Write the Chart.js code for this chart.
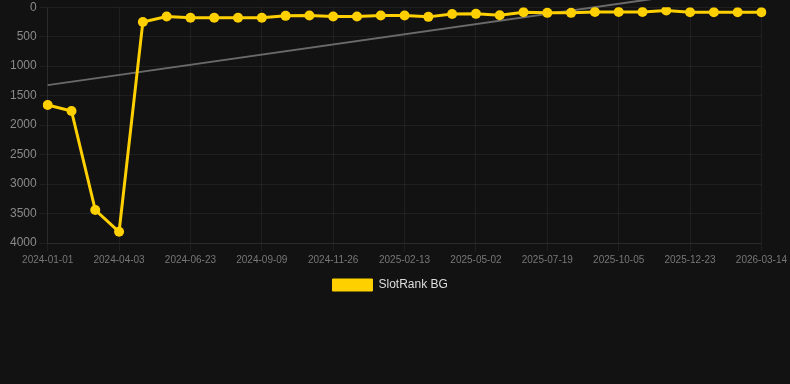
<!DOCTYPE html>
<html>
<head>
<meta charset="utf-8">
<script src="https://cdn.jsdelivr.net/npm/chart.js@4.4.1/dist/chart.umd.min.js"></script>
<style>
  html, body { margin: 0; padding: 0; background: #121212; overflow: hidden; }
  #wrap { width: 790px; height: 304px; position: relative; margin-top: -3px; }
</style>
</head>
<body>
<div id="wrap"><canvas id="c"></canvas></div>
<script>
const categories = [
  "2024-01-01","2024-02-01","2024-03-03","2024-04-03","2024-04-30","2024-05-27",
  "2024-06-23","2024-07-19","2024-08-14","2024-09-09","2024-10-05","2024-10-31",
  "2024-11-26","2024-12-22","2025-01-18","2025-02-13","2025-03-11","2025-04-06",
  "2025-05-02","2025-05-28","2025-06-23","2025-07-19","2025-08-14","2025-09-09",
  "2025-10-05","2025-10-31","2025-11-27","2025-12-23","2026-01-19","2026-02-15",
  "2026-03-14"
];
const rankValues = [
  1660, 1760, 3440, 3810, 250, 158,
  180, 180, 180, 180, 147, 142,
  158, 158, 142, 142, 164, 116,
  113, 136, 85, 96, 96, 80,
  80, 80, 57, 85, 85, 85,
  85
];
const trendValues = [1322, null, null, null, null, null, null, null, null, null, null, null, null, null, null, null, null, null, null, null, null, null, null, null, null, null, null, null, null, null, -403];
const yTicksMax = 4000;
const yTickStep = 500;

const gridColor = 'rgba(255,255,255,0.055)';
const fontFam = 'Liberation Sans, Arial, sans-serif';
new Chart(document.getElementById('c'), {
  type: 'line',
  data: {
    labels: categories,
    datasets: [
      {
        label: 'SlotRank BG',
        data: rankValues,
        borderColor: '#FFD000',
        backgroundColor: '#FFD000',
        borderWidth: 3,
        pointRadius: 5,
        pointBorderWidth: 0,
        pointHoverRadius: 5,
        pointBackgroundColor: '#FFD000',
        pointBorderColor: '#FFD000',
        tension: 0,
        order: 1
      },
      {
        label: 'trend',
        data: trendValues,
        spanGaps: true,
        borderColor: '#6a6a6a',
        borderWidth: 2,
        pointRadius: 0,
        fill: false,
        clip: false,
        order: 2
      }
    ]
  },
  options: {
    responsive: true,
    maintainAspectRatio: false,
    animation: false,
    layout: { padding: { top: 0, right: 0, left: 7, bottom: 0 } },
    plugins: {
      legend: {
        position: 'bottom',
        labels: {
          color: '#dddddd',
          font: { family: fontFam, size: 12 },
          boxWidth: 40,
          boxHeight: 12,
          filter: (item) => item.text.trim() !== 'trend',
          generateLabels: (chart) => {
            const items = Chart.defaults.plugins.legend.labels.generateLabels(chart);
            items.forEach(it => { it.lineWidth = 1; it.text = it.text + '     '; });
            return items;
          }
        }
      },
      tooltip: { enabled: false }
    },
    scales: {
      x: {
        grid: { color: gridColor, tickColor: gridColor },
        border: { color: gridColor },
        ticks: {
          color: '#777777',
          font: { family: fontFam, size: 10 },
          maxRotation: 0,
          autoSkip: true,
          maxTicksLimit: 11
        }
      },
      y: {
        reverse: true,
        min: 0,
        max: yTicksMax,
        grid: { color: gridColor, tickColor: gridColor },
        border: { color: gridColor },
        ticks: {
          stepSize: yTickStep,
          color: '#8a8a8a',
          font: { family: fontFam, size: 12 },
          callback: (v) => String(v)
        }
      }
    }
  }
});
</script>
</body>
</html>
